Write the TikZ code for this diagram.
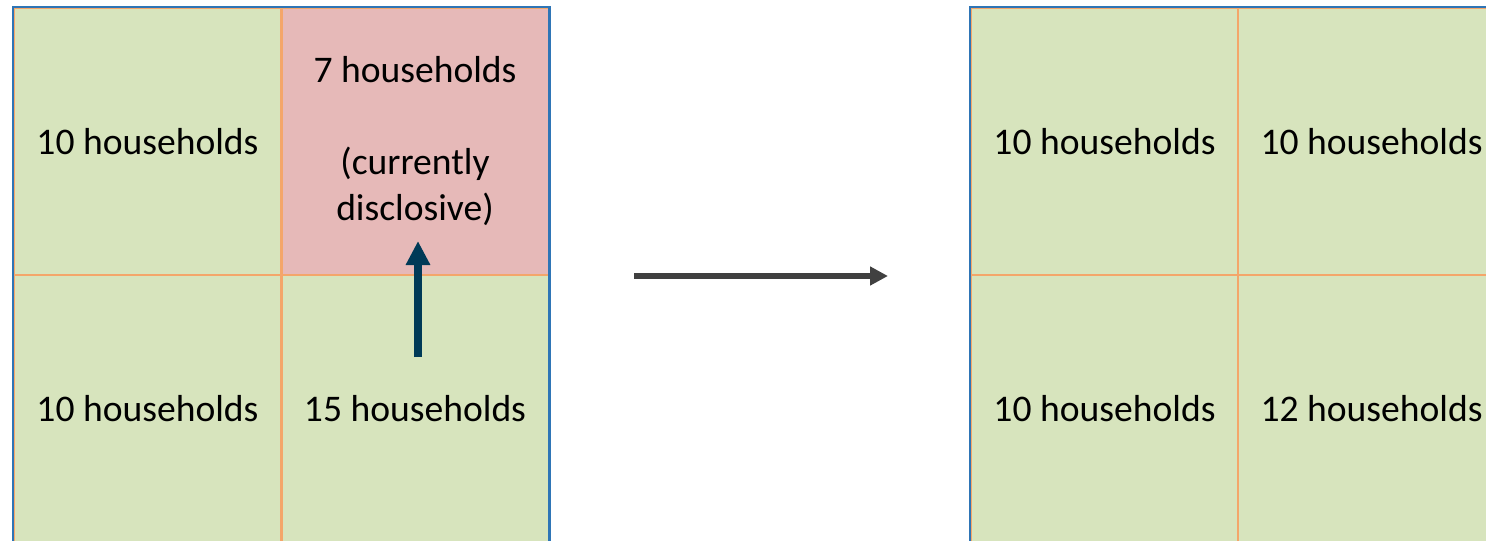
\documentclass[tikz,border=0pt]{standalone}
\usepackage{fontspec}
\setmainfont{Carlito}
\usetikzlibrary{arrows.meta}
\definecolor{cellgreen}{HTML}{D7E4BD}
\definecolor{cellpink}{HTML}{E6B9B8}
\definecolor{gridblue}{HTML}{2E75B6}
\definecolor{gridorange}{HTML}{F4A66A}
\definecolor{arrownavy}{HTML}{003A57}
\definecolor{arrowgray}{HTML}{404040}
\tikzset{
  cell/.style={draw=gridorange, line width=1pt, fill=cellgreen,
    minimum width=133.5pt, minimum height=133.5pt, inner sep=0pt,
    align=center, font=\fontsize{18.8}{23}\selectfont},
  gridframe/.style={draw=gridblue, line width=1.2pt},
}
\begin{document}
\begin{tikzpicture}[x=0.5pt,y=-0.5pt]
      \useasboundingbox (0,0) rectangle (1486,540);
      \clip (0,0) rectangle (1486,540);
      % before
      \draw
        (147.5,141.5) node[cell] (b1){10 households}
        (415,141.5) node[cell, fill=cellpink] (b2){7 households\\[23pt](currently\\disclosive)}
        (147.5,408.5) node[cell] (b3){10 households}
        (415,408.5) node[cell] (b4){15 households};
      \draw[gridframe] (b1.north west) rectangle (b4.south east);
      % after
      \draw
        (1104.5,141.5) node[cell] (a1){10 households}
        (1371.5,141.5) node[cell] (a2){10 households}
        (1104.5,408.5) node[cell] (a3){10 households}
        (1371.5,408.5) node[cell] (a4){12 households};
      \draw[gridframe] (a1.north west) rectangle (a4.south east);
      \coordinate (move0) at (418,357);
      \coordinate (move1) at (418,241);
      \coordinate (step0) at (634,276);
      \coordinate (step1) at (888,276);
      \begin{scope}[-{Triangle[length=12pt,width=11.5pt]}]
        \draw[arrownavy, line width=4pt] (move0) to (move1);
        \draw[arrowgray, line width=2.8pt, -{Triangle[length=9pt,width=9pt]}] (step0) to (step1);
      \end{scope}
    \end{tikzpicture}
\end{document}
